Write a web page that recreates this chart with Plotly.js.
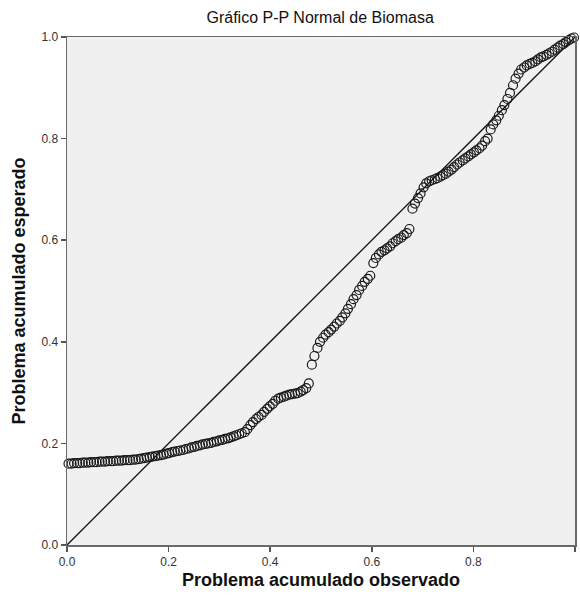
<!DOCTYPE html>
<html>
<head>
<meta charset="utf-8">
<script src="https://cdn.plot.ly/plotly-3.0.1.min.js"></script>
<style>html,body{margin:0;padding:0;background:#fff;}#chart{width:580px;height:598px;}</style>
</head>
<body>
<div id="chart"></div>
<script>
// Observed cumulative probability (x)
const observed = [
  0.003,0.009,0.014,0.020,0.025,0.031,0.036,0.042,0.047,0.053,
  0.058,0.064,0.069,0.075,0.080,0.086,0.091,0.097,0.102,0.108,
  0.113,0.119,0.124,0.130,0.135,0.141,0.146,0.152,0.157,0.163,
  0.168,0.174,0.179,0.185,0.190,0.196,0.201,0.207,0.212,0.218,
  0.223,0.229,0.234,0.240,0.245,0.251,0.256,0.262,0.267,0.273,
  0.278,0.284,0.289,0.295,0.300,0.306,0.311,0.317,0.322,0.328,
  0.333,0.339,0.344,0.350,0.355,0.361,0.366,0.372,0.377,0.383,
  0.388,0.394,0.399,0.405,0.410,0.416,0.421,0.427,0.432,0.438,
  0.443,0.449,0.454,0.460,0.465,0.471,0.476,0.482,0.487,0.493,
  0.498,0.504,0.509,0.515,0.520,0.526,0.531,0.537,0.542,0.548,
  0.553,0.559,0.564,0.570,0.575,0.581,0.586,0.592,0.597,0.603,
  0.608,0.614,0.619,0.625,0.630,0.636,0.641,0.647,0.652,0.658,
  0.663,0.669,0.674,0.680,0.685,0.691,0.696,0.702,0.707,0.713,
  0.718,0.724,0.729,0.735,0.740,0.746,0.751,0.757,0.762,0.768,
  0.773,0.779,0.784,0.790,0.795,0.801,0.806,0.812,0.817,0.823,
  0.828,0.834,0.839,0.845,0.850,0.856,0.861,0.867,0.872,0.878,
  0.883,0.889,0.894,0.900,0.905,0.911,0.916,0.922,0.927,0.933,
  0.938,0.944,0.949,0.955,0.960,0.966,0.971,0.977,0.982,0.988,
  0.993,0.998
];
// Expected cumulative probability (y)
const expected = [
  0.160,0.160,0.161,0.161,0.161,0.162,0.162,0.162,0.163,0.163,
  0.163,0.164,0.164,0.164,0.165,0.165,0.165,0.166,0.166,0.166,
  0.167,0.167,0.167,0.168,0.168,0.169,0.170,0.171,0.172,0.173,
  0.174,0.175,0.176,0.177,0.178,0.180,0.181,0.183,0.184,0.185,
  0.186,0.187,0.189,0.190,0.192,0.193,0.195,0.196,0.198,0.199,
  0.200,0.201,0.203,0.204,0.206,0.207,0.209,0.210,0.212,0.214,
  0.216,0.218,0.220,0.222,0.228,0.236,0.242,0.248,0.252,0.256,
  0.262,0.268,0.273,0.278,0.284,0.288,0.290,0.292,0.294,0.296,
  0.297,0.298,0.299,0.302,0.305,0.309,0.318,0.355,0.372,0.388,
  0.400,0.408,0.414,0.419,0.424,0.430,0.436,0.441,0.448,0.456,
  0.465,0.474,0.484,0.492,0.502,0.510,0.518,0.524,0.530,0.555,
  0.565,0.572,0.577,0.580,0.584,0.588,0.594,0.598,0.602,0.605,
  0.610,0.614,0.622,0.662,0.672,0.683,0.692,0.704,0.712,0.716,
  0.718,0.720,0.722,0.725,0.728,0.731,0.735,0.739,0.744,0.749,
  0.753,0.757,0.761,0.765,0.769,0.773,0.777,0.781,0.786,0.795,
  0.800,0.818,0.828,0.836,0.845,0.856,0.866,0.878,0.890,0.905,
  0.918,0.928,0.936,0.940,0.944,0.947,0.949,0.952,0.956,0.960,
  0.962,0.965,0.968,0.971,0.975,0.979,0.983,0.986,0.990,0.994,
  0.997,0.999
];
const refLineX = [0, 1];
const refLineY = [0, 1];
const tickVals = [0, 0.2, 0.4, 0.6, 0.8, 1.0];
const tickText = ['0.0', '0.2', '0.4', '0.6', '0.8', '1.0'];

const FONT = 'Arial, "Liberation Sans", sans-serif';

const traces = [
  {
    x: refLineX, y: refLineY, type: 'scatter', mode: 'lines',
    line: {color: '#111', width: 1.3}, hoverinfo: 'skip', cliponaxis: false
  },
  {
    x: observed, y: expected, type: 'scatter', mode: 'markers',
    marker: {symbol: 'circle-open', size: 9, color: '#1a1a1a', line: {width: 1.2, color: '#1a1a1a'}},
    cliponaxis: false
  }
];

const axisCommon = {
  range: [0, 1], autorange: false,
  tickvals: tickVals, ticktext: tickText,
  ticks: 'outside', ticklen: 5, tickwidth: 1.5, tickcolor: '#555',
  showline: true, mirror: true, linecolor: '#6a6a6a', linewidth: 1.5,
  showgrid: false, zeroline: false,
  tickfont: {family: FONT, size: 12, color: '#333'}
};

const layout = {
  width: 580, height: 598,
  margin: {l: 67, r: 5, t: 37, b: 53},
  paper_bgcolor: '#ffffff', plot_bgcolor: '#f0f0f0',
  showlegend: false,
  title: {
    text: 'Gráfico P-P Normal de Biomasa',
    font: {family: FONT, size: 16, color: '#111'},
    x: 0.552, xanchor: 'center', y: 0.971, yanchor: 'middle'
  },
  xaxis: Object.assign({}, axisCommon, {
    title: {text: '<b>Problema acumulado observado</b>', standoff: 5,
      font: {family: FONT, size: 18, color: '#111'}}
  }),
  yaxis: Object.assign({}, axisCommon, {
    title: {text: '<b>Problema acumulado esperado</b>', standoff: 11,
      font: {family: FONT, size: 18, color: '#111'}}
  })
};

Plotly.newPlot('chart', traces, layout, {displayModeBar: false, staticPlot: true});
</script>
</body>
</html>
